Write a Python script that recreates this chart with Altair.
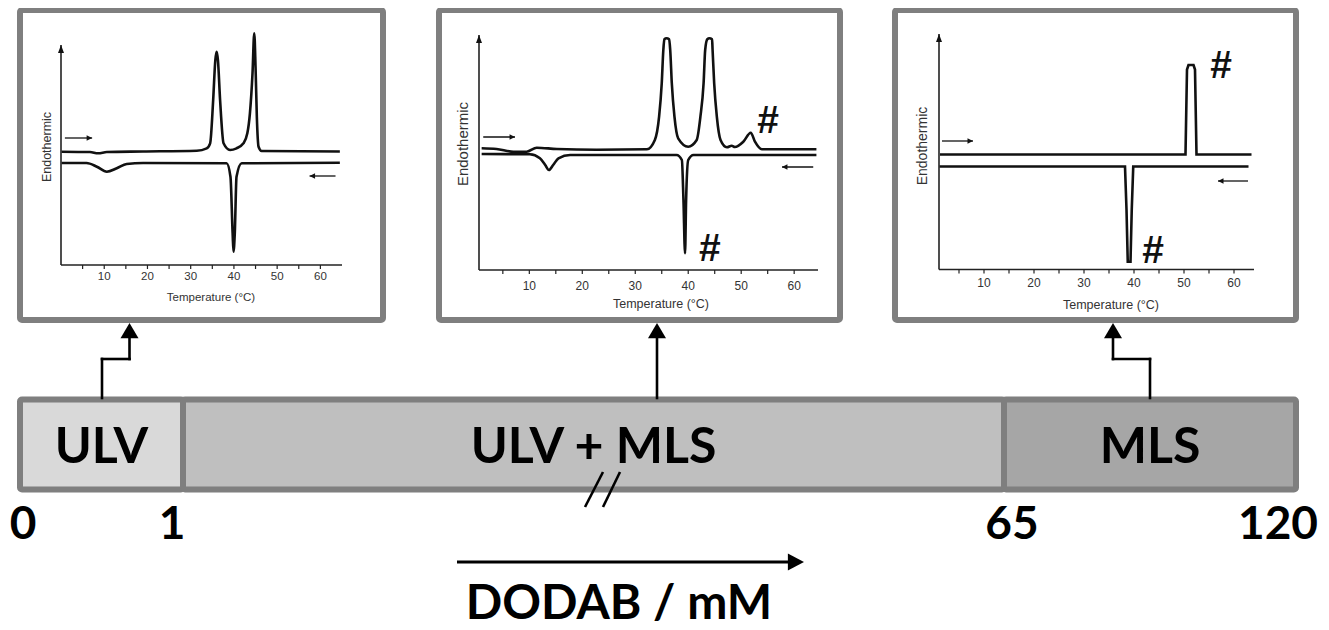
import altair as alt
import pandas as pd

# ---------------- values ----------------
# concentration bar (DODAB / mM)
phase_names = ["ULV", "ULV + MLS", "MLS"]
phase_start = [0, 1, 65]
phase_end = [1, 65, 120]
phase_mid = [0.5, 33, 92.5]
conc_values = [0, 1, 65, 120]
conc_labels = ["0", "1", "65", "120"]
conc_title = "DODAB / mM"

# DSC insets: temperature (°C) vs heat-flow signal (arbitrary units)
temp_labels = [10, 20, 30, 40, 50, 60]
temp_ticks = [5, 10, 15, 20, 25, 30, 35, 40, 45, 50, 55, 60]
temp_title = "Temperature (°C)"
signal_title = "Endothermic"

# inset 1 : ULV
ulv_heat_T = [0.15, 6.7, 8.6, 10.6, 19.0, 31.4, 33.7, 34.5, 35.2, 35.7, 36.0, 36.3, 36.8, 37.6,
              39.1, 40.6, 42.2, 43.1, 43.7, 44.3, 44.7, 45.0, 45.3, 45.7, 46.4, 64.5]
ulv_heat_S = [113.3, 113, 111.7, 113, 113.5, 114.3, 116.7, 121.7, 165, 205, 213.3, 205, 165, 121.7,
              115, 116.7, 121.7, 131.7, 151.7, 191.7, 231.7, 198.3, 148.3, 118.3, 114, 113.5]
ulv_cool_T = [0.15, 5.9, 8.3, 10.6, 12.9, 15.2, 19.0, 38.3, 39.2, 39.7, 39.9, 40.2, 40.6, 41.8, 64.5]
ulv_cool_S = [102, 102, 98.3, 93.3, 96.7, 101, 102, 101.7, 88.3, 31.7, 13.3, 31.7, 88.3, 101.7, 102.3]
ulv_arrow_from = [0.9, 63.5]
ulv_arrow_to = [7.2, 57.5]
ulv_arrow_S = [127, 89]
ulv_hash_T = []
ulv_hash_S = []

# inset 2 : ULV + MLS
mix_heat_T = [1.0, 3.8, 7.0, 9.5, 11.4, 15.2, 22.7, 32.2, 33.7, 34.5, 35.0, 35.3, 35.5, 35.9, 36.4,
              36.6, 36.9, 37.4, 38.1, 40.0, 41.6, 42.3, 42.9, 43.2, 43.6, 44.0, 44.5, 44.6, 44.9,
              45.4, 46.1, 47.3, 48.2, 48.8, 50.4, 51.8, 52.6, 53.9, 64.2]
mix_heat_S = [121.7, 121, 118.3, 118.3, 122.3, 121, 120.3, 120.7, 130, 153.3, 186.7, 220, 230.7,
              231.7, 230.7, 220, 186.7, 153.3, 131.7, 123.3, 130, 153.3, 186.7, 220, 230.7, 231.7,
              230.7, 220, 186.7, 153.3, 130, 122.7, 124.3, 123, 128.3, 137.3, 128.3, 120.7, 120.7]
mix_cool_T = [1.0, 10.1, 12.0, 13.0, 13.7, 14.5, 15.5, 17.7, 37.8, 38.8, 39.1, 39.4, 39.6, 40.0, 41.0, 64.2]
mix_cool_S = [116, 115.7, 111.7, 105, 100, 105, 111.7, 115, 115, 110, 70, 16.7, 70, 110, 115, 115]
mix_arrow_from = [1.3, 63.6]
mix_arrow_to = [7.3, 57.7]
mix_arrow_S = [133, 103]
mix_hash_T = [55.1, 44.1]
mix_hash_S = [149, 21]

# inset 3 : MLS
mls_heat_T = [1.2, 50.3, 50.6, 50.9, 51.9, 52.2, 52.5, 63.5]
mls_heat_S = [115, 115, 200, 204.5, 204.5, 200, 115, 115]
mls_cool_T = [1.1, 38.2, 38.5, 38.75, 39.3, 39.55, 39.85, 62.9]
mls_cool_S = [103, 103, 60, 7.8, 7.8, 60, 103, 103]
mls_arrow_from = [1.6, 62.8]
mls_arrow_to = [7.8, 56.8]
mls_arrow_S = [128.5, 88.5]
mls_hash_T = [57.4, 43.8]
mls_hash_S = [203.5, 18.5]

# ---------------- layout / style ----------------
OFF = 8
W, H = 1313, 622


def P(v):
    return v - OFF


GRAY = "#7f7f7f"
PHASE_FILL = ["#d9d9d9", "#bfbfbf", "#a6a6a6"]
INK = "#111111"
TXT = "#333333"
BIG = "Lato"
SMALL = "Liberation Sans"

ONE = pd.DataFrame({"k": [0]})

UP = "M0,0L-1,1.7L1,1.7Z"
RIGHT = "M0,0L-1.9,-1L-1.9,1Z"
SRIGHT = "M0,0L-2,-1L-2,1Z"
SLEFT = "M0,0L2,-1L2,1Z"
YUP = "M0,0L-1,2.7L1,2.7Z"

layers = []


def seg(x1, y1, x2, y2, w=2.6, color="black", cap="square"):
    return alt.Chart(ONE).mark_rule(color=color, strokeWidth=w, strokeCap=cap).encode(
        x=alt.value(P(x1)), y=alt.value(P(y1)), x2=alt.value(P(x2)), y2=alt.value(P(y2)))


def head(x, y, shape, size, color="black"):
    return alt.Chart(ONE).mark_point(shape=shape, size=size, filled=True, color=color,
                                     opacity=1, strokeWidth=0).encode(
        x=alt.value(P(x)), y=alt.value(P(y)))


def label(x, y, text, **kw):
    return alt.Chart(ONE).mark_text(text=text, **kw).encode(x=alt.value(P(x)), y=alt.value(P(y)))


insets = [
    dict(heat=(ulv_heat_T, ulv_heat_S), cool=(ulv_cool_T, ulv_cool_S),
         arrows=(ulv_arrow_from, ulv_arrow_to, ulv_arrow_S), hashes=(ulv_hash_T, ulv_hash_S),
         box=(20, 10, 383, 320), xdom=[0, 65], xpx=[61, 342], ydom=[0, 220], ypx=[265, 45],
         lab_y=277, title_xy=(211, 298), ylab_xy=(47, 147),
         tick_fs=11.5, title_fs=11.5, ylab_fs=12.5, interp="monotone"),
    dict(heat=(mix_heat_T, mix_heat_S), cool=(mix_cool_T, mix_cool_S),
         arrows=(mix_arrow_from, mix_arrow_to, mix_arrow_S), hashes=(mix_hash_T, mix_hash_S),
         box=(439, 10, 840, 320), xdom=[0.5, 64.5], xpx=[479, 818], ydom=[0, 235], ypx=[270, 35],
         lab_y=286, title_xy=(661, 304), ylab_xy=(463, 144),
         tick_fs=12, title_fs=12.5, ylab_fs=15, interp="monotone"),
    dict(heat=(mls_heat_T, mls_heat_S), cool=(mls_cool_T, mls_cool_S),
         arrows=(mls_arrow_from, mls_arrow_to, mls_arrow_S), hashes=(mls_hash_T, mls_hash_S),
         box=(895, 10, 1296, 320), xdom=[1, 64], xpx=[939, 1254], ydom=[0, 235.5], ypx=[269.5, 34],
         lab_y=283, title_xy=(1111, 305), ylab_xy=(923, 146),
         tick_fs=12, title_fs=12.5, ylab_fs=14, interp="linear"),
]

for g in insets:
    xsc = alt.Scale(domain=g["xdom"], range=[P(v) for v in g["xpx"]], nice=False, zero=False)
    ysc = alt.Scale(domain=g["ydom"], range=[P(v) for v in g["ypx"]], nice=False, zero=False)

    def X(f, xsc=xsc):
        return alt.X(f, type="quantitative", scale=xsc, axis=None)

    def Y(f, ysc=ysc):
        return alt.Y(f, type="quantitative", scale=ysc, axis=None)

    bx0, by0, bx1, by1 = g["box"]
    layers.append(alt.Chart(ONE).mark_rect(fill="white", stroke=GRAY, strokeWidth=6, cornerRadius=2).encode(
        x=alt.value(P(bx0)), x2=alt.value(P(bx1)), y=alt.value(P(by0)), y2=alt.value(P(by1))))

    # axes
    fr = pd.DataFrame({"x0": [g["xdom"][0]], "x1": [g["xdom"][1]], "y0": [0], "y1": [g["ydom"][1]]})
    layers.append(alt.Chart(fr).mark_rule(color="#222", strokeWidth=1.6).encode(
        x=X("x0"), x2="x1", y=Y("y0")))
    layers.append(alt.Chart(fr).mark_rule(color="#222", strokeWidth=1.6).encode(
        x=X("x0"), y=Y("y0"), y2="y1"))
    layers.append(alt.Chart(fr).mark_point(shape=YUP, size=36, filled=True, color="#111",
                                           opacity=1, strokeWidth=0).encode(x=X("x0"), y=Y("y1")))
    ax_y = g["ypx"][0]
    tk = pd.DataFrame({"T": temp_ticks})
    layers.append(alt.Chart(tk).mark_rule(color="#222", strokeWidth=1.2).encode(
        x=X("T"), y=alt.value(P(ax_y)), y2=alt.value(P(ax_y + 4))))
    lb = pd.DataFrame({"T": temp_labels, "lab": [str(v) for v in temp_labels]})
    layers.append(alt.Chart(lb).mark_text(font=SMALL, fontSize=g["tick_fs"], color=TXT,
                                          baseline="middle").encode(
        x=X("T"), y=alt.value(P(g["lab_y"])), text="lab:N"))
    tx, ty = g["title_xy"]
    layers.append(label(tx, ty, temp_title, font=SMALL, fontSize=g["title_fs"], color=TXT,
                        baseline="middle", align="center"))
    yx, yy = g["ylab_xy"]
    layers.append(label(yx, yy, signal_title, font=SMALL, fontSize=g["ylab_fs"], color=TXT,
                        baseline="middle", align="center", angle=270))

    # DSC traces
    ht, hs = g["heat"]
    ct, cs = g["cool"]
    df = pd.DataFrame({"T": ht + ct, "S": hs + cs,
                       "scan": ["heating"] * len(ht) + ["cooling"] * len(ct)})
    layers.append(alt.Chart(df).mark_line(color=INK, strokeWidth=2.6, interpolate=g["interp"]).encode(
        x=X("T"), y=Y("S"), detail="scan:N"))

    # scan-direction arrows
    af, at, asg = g["arrows"]
    ar = pd.DataFrame({"T0": af, "T1": at, "S": asg,
                       "dir": ["right" if b > a else "left" for a, b in zip(af, at)]})
    layers.append(alt.Chart(ar).mark_rule(color=INK, strokeWidth=1.3).encode(
        x=X("T0"), x2="T1", y=Y("S")))
    layers.append(alt.Chart(ar).mark_point(filled=True, size=30, color=INK, opacity=1,
                                           strokeWidth=0).encode(
        x=X("T1"), y=Y("S"),
        shape=alt.Shape("dir:N", scale=alt.Scale(domain=["right", "left"], range=[SRIGHT, SLEFT]),
                        legend=None)))

    # '#' markers
    hT, hS = g["hashes"]
    if hT:
        hd = pd.DataFrame({"T": hT, "S": hS})
        layers.append(alt.Chart(hd).mark_text(text="#", font=SMALL, fontWeight="bold", fontSize=39,
                                              baseline="middle", align="center", color=INK).encode(
            x=X("T"), y=Y("S")))

# ---------------- concentration bar ----------------
conc_sc = alt.Scale(domain=conc_values, range=[P(20), P(183), P(1004), P(1296)], nice=False, zero=False)
bar_df = pd.DataFrame({"phase": phase_names, "start": phase_start, "end": phase_end, "mid": phase_mid})

layers.append(alt.Chart(bar_df).mark_rect(stroke=GRAY, strokeWidth=6, cornerRadius=2).encode(
    x=alt.X("start:Q", scale=conc_sc, axis=None), x2="end:Q",
    y=alt.value(P(399.5)), y2=alt.value(P(489.5)),
    color=alt.Color("phase:N", scale=alt.Scale(domain=phase_names, range=PHASE_FILL), legend=None)))
layers.append(alt.Chart(bar_df).mark_text(font=BIG, fontWeight="bold", fontSize=50, baseline="alphabetic",
                                          align="center", color="black").encode(
    x=alt.X("mid:Q", scale=conc_sc, axis=None), y=alt.value(P(463)), text="phase:N"))

DIGIT_DX = [3, -11, 8, -18]
for v, s, dx in zip(conc_values, conc_labels, DIGIT_DX):
    layers.append(alt.Chart(pd.DataFrame({"c": [v], "t": [s]})).mark_text(
        font=BIG, fontWeight="bold", fontSize=46, baseline="alphabetic", align="center",
        color="black", dx=dx).encode(
        x=alt.X("c:Q", scale=conc_sc, axis=None), y=alt.value(P(539)), text="t:N"))

# axis break marks
layers.append(seg(585, 507, 603, 472, w=2.6, cap="butt"))
layers.append(seg(603, 507, 620, 472, w=2.6, cap="butt"))

# connectors from the bar to the insets
layers += [seg(102, 398, 102, 359), seg(102, 359, 129.5, 359), seg(129.5, 359, 129.5, 337),
           head(129.5, 323, UP, 324)]
layers += [seg(657, 398, 657, 337), head(657, 323, UP, 324)]
layers += [seg(1150, 398, 1150, 359), seg(1150, 359, 1113, 359), seg(1113, 359, 1113, 337),
           head(1113, 323, UP, 324)]

# DODAB arrow and title
layers += [seg(457, 562, 790, 562, w=3, cap="butt"), head(804, 562, RIGHT, 289)]
layers.append(label(619, 619, conc_title, font=BIG, fontWeight="bold", fontSize=48,
                    baseline="alphabetic", align="center", color="black"))

chart = alt.layer(*layers).resolve_scale(
    x="independent", y="independent", color="independent", shape="independent"
).properties(
    width=W, height=H, padding=0, background="white",
    autosize=alt.AutoSizeParams(type="none"),
).configure_view(strokeWidth=0)

chart.save("out.html", embed_options={"renderer": "svg", "actions": False})
